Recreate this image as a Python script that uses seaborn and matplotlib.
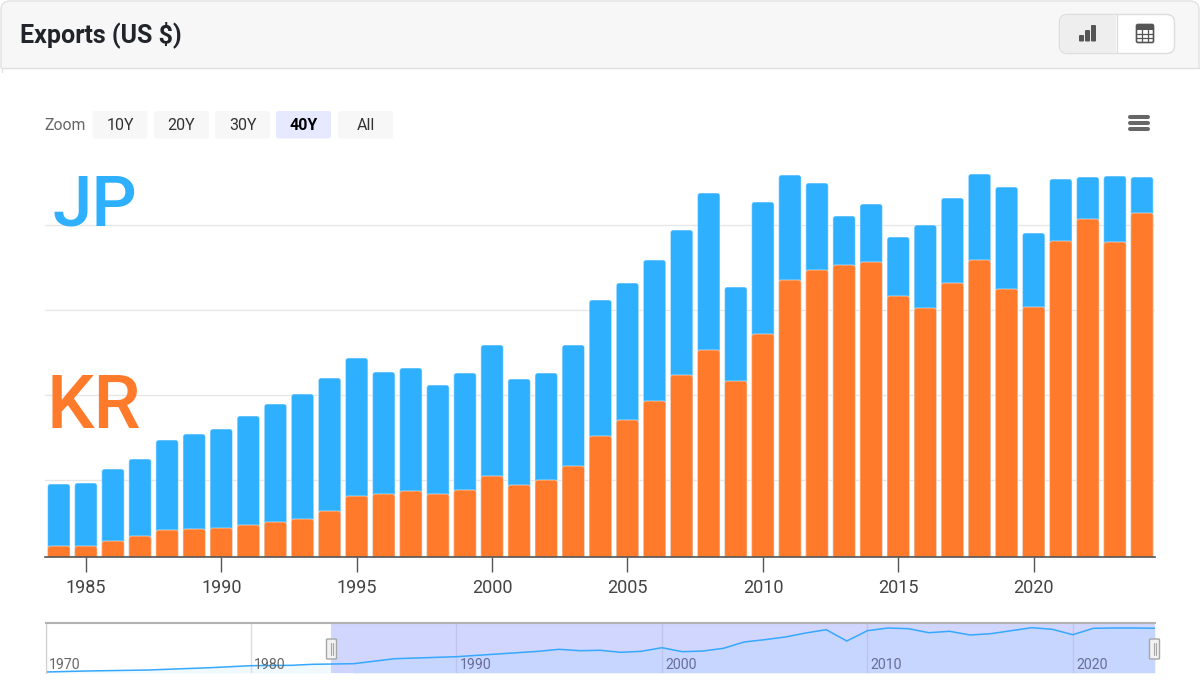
import pandas as pd
import seaborn as sns
import matplotlib.pyplot as plt
from matplotlib.patches import FancyBboxPatch, Rectangle

# Valores (altura acima da base do grafico)
years = list(range(1984, 2025))
jp = [73, 74, 88, 98, 117, 123, 128, 141, 153, 163, 179, 199, 185, 189, 172, 184, 212, 178, 184, 212,
      257, 274, 297, 327, 364, 270, 355, 382, 374, 341, 353, 320, 332, 359, 383, 370, 324, 378, 380, 381, 380]
kr = [11, 11, 16, 21, 27, 28, 29, 32, 35, 38, 46, 61, 63, 66, 63, 67, 81, 72, 77, 91,
      121, 137, 156, 182, 207, 176, 223, 277, 287, 292, 295, 261, 249, 274, 297, 268, 250, 316, 338, 315, 344]
grid_levels = [77, 162, 247, 332]
x_ticks = [1985, 1990, 1995, 2000, 2005, 2010, 2015, 2020]

# Serie do navegador (miniatura inferior)
nav_years = [1970, 1972, 1975, 1978, 1980, 1982, 1983, 1985, 1987, 1990, 1992, 1994, 1995, 1996, 1997, 1998, 1999,
             2000, 2001, 2002, 2003, 2004, 2005, 2006, 2007, 2008, 2009, 2010, 2011, 2012, 2013, 2014, 2015, 2016,
             2017, 2018, 2019, 2020, 2021, 2022, 2023, 2024]
nav_values = [1, 2, 3, 5.3, 7.3, 7.7, 8.7, 9.3, 14.3, 16.3, 19, 21.7, 23.7, 22.3, 22.7, 20.7, 21.7,
              25.3, 21.3, 22, 24.7, 31, 33.3, 36, 40, 43.3, 32, 42.3, 45, 44.3, 40.3, 41.7, 38, 39.3,
              42.3, 45.3, 43.7, 38.3, 44.7, 45, 45, 44.7]
nav_labels = [1970, 1980, 1990, 2000, 2010, 2020]
zoom_buttons = ["10Y", "20Y", "30Y", "40Y", "All"]

BLUE = "#2eb0ff"
ORANGE = "#ff7a2b"

sns.set_theme(style="white")
plt.rcParams["font.family"] = ["Roboto", "DejaVu Sans"]

df = pd.DataFrame({"year": years, "jp": jp, "kr": kr})
nav = pd.DataFrame({"year": nav_years, "value": nav_values})

W, H = 1200, 693
fig = plt.figure(figsize=(12, 6.93), dpi=100, facecolor="white")


def axes_px(x0, y0, x1, y1, **kw):
    return fig.add_axes([x0 / W, 1 - y1 / H, (x1 - x0) / W, (y1 - y0) / H], **kw)


# Grafico principal
ax = axes_px(45, 140, 1155, 557)
sns.barplot(data=df, x="year", y="jp", color=BLUE, native_scale=True, width=0.83, saturation=1, ax=ax)
sns.barplot(data=df, x="year", y="kr", color=ORANGE, native_scale=True, width=0.83, saturation=1, ax=ax)

# Trocar os retangulos por barras com cantos arredondados
for p in list(ax.patches):
    x, w, h = p.get_x(), p.get_width(), p.get_height()
    color = p.get_facecolor()
    p.remove()
    ax.add_patch(FancyBboxPatch((x, -6), w, h + 6, boxstyle="round,pad=0,rounding_size=0.1",
                                mutation_aspect=27.1, facecolor=color, edgecolor=(1, 1, 1, 0.45),
                                linewidth=0.8, zorder=3))

ax.set_xlim(1983.49, 2024.48)
ax.set_ylim(0, 417)
ax.set_yticks(grid_levels)
ax.set_yticklabels([])
ax.set_xticks(x_ticks)
ax.set_xticklabels([str(t) for t in x_ticks])
ax.set_xlabel("")
ax.set_ylabel("")
ax.grid(axis="y", color="#e6e6e6", linewidth=1)
ax.set_axisbelow(True)
ax.tick_params(axis="x", length=11, width=1, color="#555555", labelcolor="#444444", labelsize=13, pad=5, bottom=True)
ax.tick_params(axis="y", length=0)
sns.despine(ax=ax, left=True)
ax.spines["bottom"].set_color("#555555")
ax.spines["bottom"].set_linewidth(1.2)
ax.spines["bottom"].set_zorder(5)
ax.patch.set_alpha(0)

# Navegador
ax_nav = axes_px(45.5, 623, 1155, 673)
ax_nav.fill_between(nav_years, nav_values, color=BLUE, alpha=0.07, linewidth=0)
sns.lineplot(data=nav, x="year", y="value", color="#35a8ff", linewidth=1.1, ax=ax_nav)
ax_nav.axvspan(1983.9, 2024, color="#ccd2ff", alpha=0.9, linewidth=0, zorder=1)
ax_nav.fill_between(nav_years, nav_values, where=[y >= 1985 for y in nav_years], color="#bcd8ff",
                    alpha=0.4, linewidth=0, zorder=1.5)
ax_nav.set_xlim(1970, 2024)
ax_nav.set_ylim(0, 50)
ax_nav.set_xticks(nav_labels)
ax_nav.set_xticklabels([])
ax_nav.set_yticks([])
ax_nav.set_xlabel("")
ax_nav.set_ylabel("")
ax_nav.tick_params(axis="x", length=0)
for lab in nav_labels:
    selected = lab > 1983.9
    ax_nav.axvline(lab, color="#bfc4ea" if selected else "#dcdcdc", linewidth=1, zorder=1.7)
    ax_nav.text(lab + 0.15, 0.8, str(lab), fontsize=10.2, color="#6a6d96" if selected else "#666666",
                va="bottom", ha="left", zorder=6)
for side in ["bottom", "right"]:
    ax_nav.spines[side].set_visible(False)
ax_nav.spines["left"].set_color("#cfcfcf")
ax_nav.spines["left"].set_linewidth(0.8)
ax_nav.spines["top"].set_color("#b2b2b2")
ax_nav.spines["top"].set_linewidth(1.5)

# Camada da interface, em coordenadas de pixel
ui = axes_px(0, 0, W, H, zorder=10)
ui.set_xlim(0, W)
ui.set_ylim(H, 0)
ui.axis("off")
ui.patch.set_alpha(0)


def box(x0, y0, x1, y1, fc, ec="none", r=3, lw=1, z=2):
    ui.add_patch(FancyBboxPatch((x0, y0), x1 - x0, y1 - y0, boxstyle=f"round,pad=0,rounding_size={r}",
                                facecolor=fc, edgecolor=ec, linewidth=lw, zorder=z))


# Cabecalho do cartao
ui.add_patch(FancyBboxPatch((1, 1), 1198, 120, boxstyle="round,pad=0,rounding_size=9",
                            facecolor="#f7f7f7", edgecolor="#e2e2e2", linewidth=1, zorder=1))
ui.add_patch(Rectangle((0, 68), W, 60, facecolor="white", edgecolor="none", zorder=1.5))
ui.plot([1, 1199], [67.5, 67.5], color="#e0e0e0", linewidth=1, zorder=1.6)
ui.plot([1.5, 1.5], [68, 72], color="#e4e4e4", linewidth=1, zorder=1.6)
ui.text(20, 35, "Exports (US $)", fontsize=18, fontweight="bold", color="#212529", va="center", ha="left")

# Botoes de grafico e tabela
box(1059.5, 14.5, 1174.5, 53.5, "white", "#dddddd", r=8)
box(1060, 15, 1116, 53, "#eeeeee", r=7)
ui.add_patch(Rectangle((1108, 15), 8, 38, facecolor="#eeeeee", edgecolor="none", zorder=2))
ui.plot([1116.5, 1116.5], [15, 53], color="#dddddd", linewidth=1, zorder=3)
for x0, top in [(1079, 35), (1085, 30), (1091, 25)]:
    box(x0, top, x0 + 5, 41.5, "#555555", r=1, z=3)
box(1136.5, 24.5, 1153.5, 42.5, "white", "#555555", r=1.5, lw=1.2, z=3)
ui.add_patch(Rectangle((1136.5, 24.5), 17, 5, facecolor="#555555", edgecolor="none", zorder=3))
for gx in [1142, 1148]:
    ui.plot([gx, gx], [29, 42], color="#555555", linewidth=0.9, zorder=4)
for gy in [33.5, 38]:
    ui.plot([1137, 1153], [gy, gy], color="#555555", linewidth=0.9, zorder=4)

# Botoes de zoom
ui.text(44.5, 126, "Zoom", fontsize=11.3, color="#666666", va="center", ha="left")
for label, x0 in zip(zoom_buttons, [92.5, 154, 215, 276, 338]):
    active = label == "40Y"
    box(x0, 111, x0 + 55, 138.5, "#e6e9ff" if active else "#f7f7f7", r=2.5)
    ui.text(x0 + 27.5, 126, label, fontsize=11.5, color="black" if active else "#333333",
            fontweight="bold" if active else "normal", va="center", ha="center", zorder=4)

# Menu
for my in [117, 123, 129]:
    ui.plot([1130, 1147.5], [my, my], color="#666666", linewidth=2.9, solid_capstyle="round", zorder=3)

# Rotulos grandes
ui.text(52, 226, "JP", fontsize=51, color=BLUE, va="baseline", ha="left", fontweight="medium")
ui.text(46, 428, "KR", fontsize=54, color=ORANGE, va="baseline", ha="left", fontweight="medium")

# Alcas do navegador
for x0 in [326.5, 1149.5]:
    box(x0, 639, x0 + 10, 659, "#f2f2f2", "#a6a6a6", r=1, lw=1, z=5)
    for dx in [4, 6]:
        ui.plot([x0 + dx, x0 + dx], [643, 655], color="#a6a6a6", linewidth=0.8, zorder=6)

fig.savefig("out.png", dpi=100)
